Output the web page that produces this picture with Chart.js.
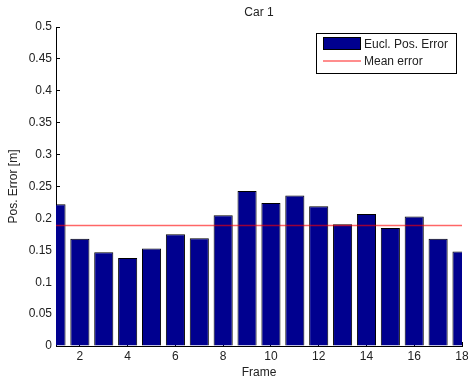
<!DOCTYPE html>
<html>
<head>
<meta charset="utf-8">
<script src="https://cdn.jsdelivr.net/npm/chart.js@4/dist/chart.umd.min.js"></script>
<style>
    html, body { margin: 0; padding: 0; background: #fff; }
    canvas { display: block; }
</style>
</head>
<body>
<canvas id="errorChart" width="468" height="383"></canvas>
<script>
// Per-frame position error for car 1
const frames = [1, 2, 3, 4, 5, 6, 7, 8, 9, 10, 11, 12, 13, 14, 15, 16, 17, 18];
const posError = [0.222, 0.168, 0.147, 0.138, 0.153, 0.175, 0.169, 0.205, 0.243,
    0.224, 0.236, 0.219, 0.191, 0.207, 0.185, 0.203, 0.168, 0.148];
const xTicks = [2, 4, 6, 8, 10, 12, 14, 16, 18];
const yTicks = [0, 0.05, 0.1, 0.15, 0.2, 0.25, 0.3, 0.35, 0.4, 0.45, 0.5];

const colors = {
    bar: '#00008f',
    edge: '#000000',
    mean: 'rgba(255, 0, 0, 0.6)',
    text: '#222222',
    axis: '#000000'
};

const font = { family: '"Liberation Sans", Arial, sans-serif', size: 12 };

const meanError = posError.reduce((sum, v) => sum + v, 0) / posError.length;

// Boxed legend in the top right corner of the plot area
const boxLegend = {
    id: 'boxLegend',
    afterDraw(chart) {
        const { ctx, chartArea } = chart;
        const [barSet, meanSet] = chart.data.datasets;
        ctx.save();
        ctx.font = `${font.size}px ${font.family}`;
        const textW = Math.max(ctx.measureText(barSet.label).width, ctx.measureText(meanSet.label).width);
        const right = chartArea.right - 6;
        const top = chartArea.top + 6;
        const width = 7 + 38 + 3 + textW + 8;
        const left = right - width;

        ctx.fillStyle = '#fff';
        ctx.fillRect(left, top, width, 40);
        ctx.strokeStyle = '#000';
        ctx.lineWidth = 1;
        ctx.strokeRect(Math.round(left) + 0.5, top + 0.5, Math.round(width), 40);

        const sx = Math.round(left) + 7;
        ctx.fillStyle = barSet.backgroundColor;
        ctx.fillRect(sx, top + 4, 38, 13);
        ctx.strokeStyle = barSet.borderColor;
        ctx.strokeRect(sx + 0.5, top + 4.5, 37, 12);

        ctx.strokeStyle = meanSet.borderColor;
        ctx.lineWidth = 1.5;
        ctx.beginPath();
        ctx.moveTo(sx, top + 28);
        ctx.lineTo(sx + 38, top + 28);
        ctx.stroke();

        ctx.fillStyle = colors.text;
        ctx.textBaseline = 'middle';
        ctx.textAlign = 'left';
        ctx.fillText(barSet.label, sx + 41, top + 12);
        ctx.fillText(meanSet.label, sx + 41, top + 29);
        ctx.restore();
    }
};

new Chart(document.getElementById('errorChart'), {
    type: 'bar',
    data: {
        datasets: [{
            type: 'bar',
            label: 'Eucl. Pos. Error',
            data: frames.map((f, i) => ({ x: f, y: posError[i] })),
            backgroundColor: colors.bar,
            borderColor: colors.edge,
            borderWidth: 1,
            borderSkipped: 'bottom',
            barPercentage: 0.8,
            categoryPercentage: 1,
            clip: 0,
            order: 2
        }, {
            type: 'line',
            label: 'Mean error',
            data: [{ x: frames[0], y: meanError }, { x: frames[frames.length - 1], y: meanError }],
            borderColor: colors.mean,
            borderWidth: 1.5,
            pointRadius: 0,
            clip: 0,
            order: 1
        }]
    },
    options: {
        responsive: false,
        animation: false,
        devicePixelRatio: 1,
        layout: { padding: { left: 0, right: 6, top: 0, bottom: 0 } },
        plugins: {
            legend: { display: false },
            tooltip: { enabled: false },
            title: {
                display: true,
                text: 'Car 1',
                fullSize: false,
                color: colors.text,
                font: { ...font, weight: 'normal' },
                padding: { top: 5.8, bottom: 6.8 }
            }
        },
        scales: {
            x: {
                type: 'linear',
                min: 1,
                max: 18,
                offset: false,
                afterBuildTicks: (scale) => { scale.ticks = xTicks.map((v) => ({ value: v })); },
                afterFit: (scale) => {
                    scale.height = 37;
                    scale.paddingLeft = 0;
                    scale.paddingRight = 0;
                },
                grid: { drawOnChartArea: false, offset: false, tickLength: -4, color: colors.axis },
                border: { color: colors.axis, width: 1 },
                ticks: {
                    color: colors.text,
                    font,
                    padding: 7.4,
                    maxRotation: 0,
                    autoSkip: false,
                    callback: (v) => String(v)
                },
                title: {
                    display: true,
                    text: 'Frame',
                    color: colors.text,
                    font,
                    padding: { top: 0, bottom: 2.8 }
                }
            },
            y: {
                min: 0,
                max: 0.5,
                afterBuildTicks: (scale) => { scale.ticks = yTicks.map((v) => ({ value: v })); },
                afterFit: (scale) => {
                    scale.width = 56;
                    scale.paddingTop = 0;
                    scale.paddingBottom = 0;
                },
                grid: { drawOnChartArea: false, tickLength: -4, color: colors.axis },
                border: { color: colors.axis, width: 1 },
                ticks: {
                    color: colors.text,
                    font,
                    padding: 8,
                    autoSkip: false,
                    callback: (v) => String(v)
                },
                title: {
                    display: true,
                    text: 'Pos. Error [m]',
                    color: colors.text,
                    font,
                    padding: { top: 6.8, bottom: 0 }
                }
            }
        }
    },
    plugins: [boxLegend]
});
</script>
</body>
</html>
